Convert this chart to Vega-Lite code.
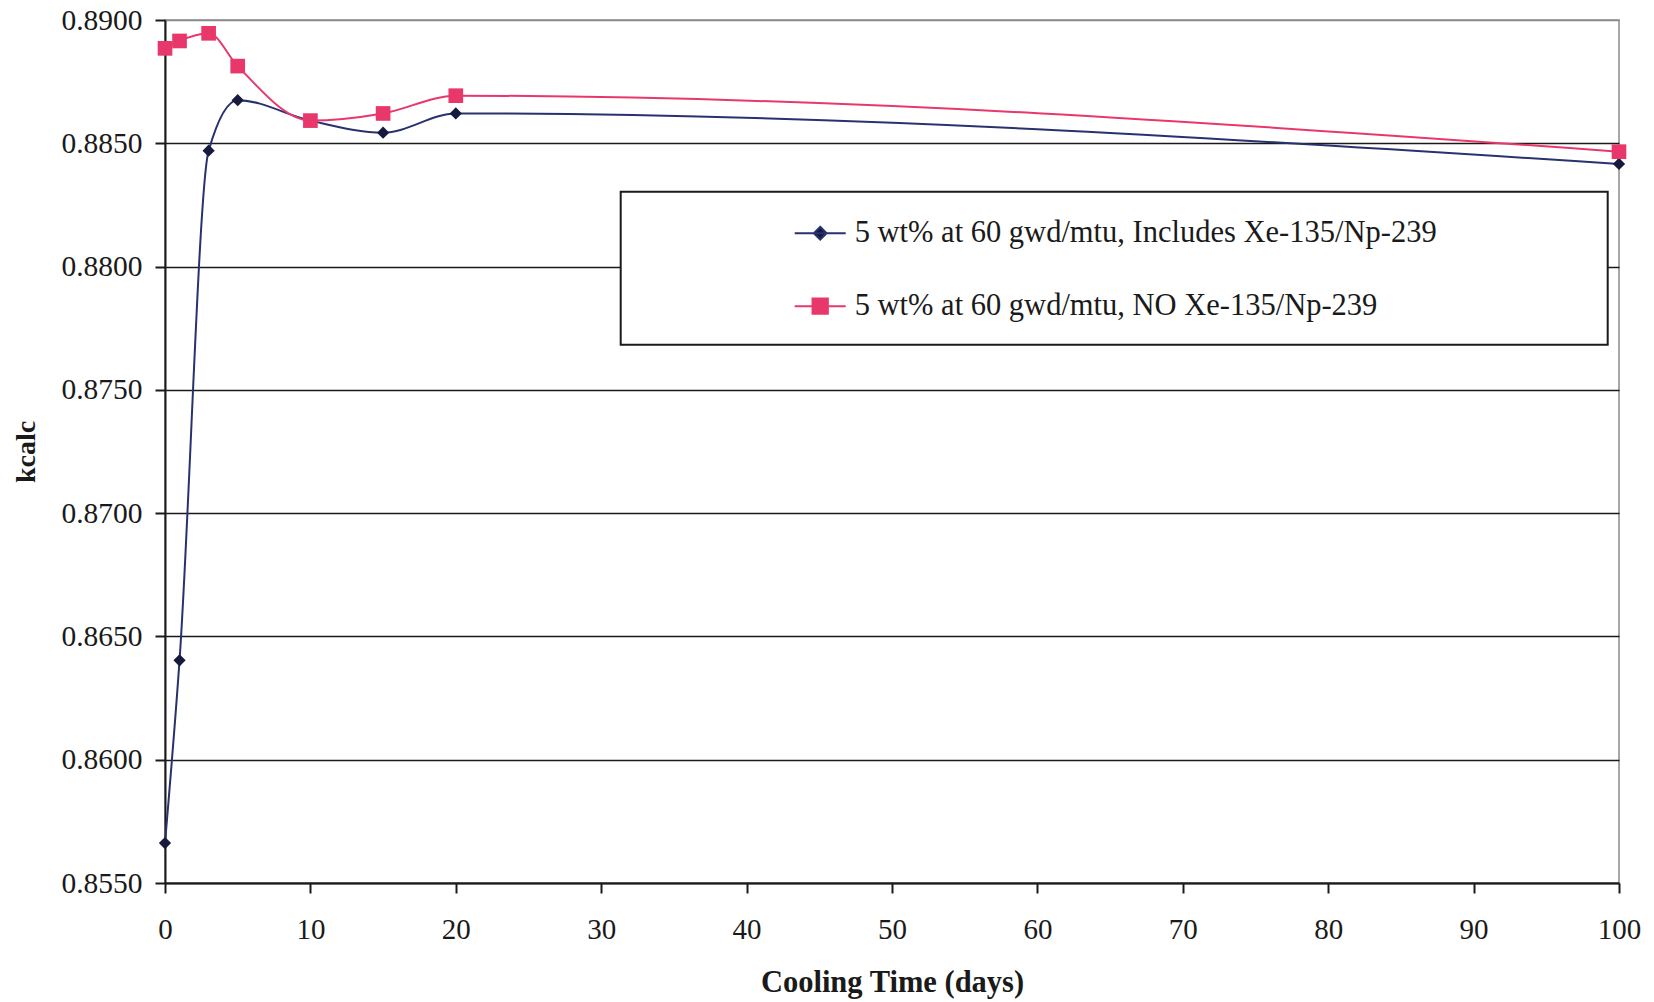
{
  "$schema": "https://vega.github.io/schema/vega-lite/v6.json",
  "autosize": {"type": "none"},
  "padding": {"left": 165, "top": 20, "right": 35, "bottom": 119},
  "width": 1454,
  "height": 863,
  "background": "#ffffff",
  "config": {
    "view": {"stroke": "#8a8a8a", "strokeWidth": 1.5},
    "font": "Liberation Serif"
  },
  "data": {
    "values": [
      {"days": 0, "kcalc": 0.85662, "series": "5 wt% at 60 gwd/mtu, Includes Xe-135/Np-239"},
      {"days": 1, "kcalc": 0.86403, "series": "5 wt% at 60 gwd/mtu, Includes Xe-135/Np-239"},
      {"days": 3, "kcalc": 0.8847, "series": "5 wt% at 60 gwd/mtu, Includes Xe-135/Np-239"},
      {"days": 5, "kcalc": 0.88675, "series": "5 wt% at 60 gwd/mtu, Includes Xe-135/Np-239"},
      {"days": 10, "kcalc": 0.88592, "series": "5 wt% at 60 gwd/mtu, Includes Xe-135/Np-239"},
      {"days": 15, "kcalc": 0.88543, "series": "5 wt% at 60 gwd/mtu, Includes Xe-135/Np-239"},
      {"days": 20, "kcalc": 0.88621, "series": "5 wt% at 60 gwd/mtu, Includes Xe-135/Np-239"},
      {"days": 100, "kcalc": 0.88416, "series": "5 wt% at 60 gwd/mtu, Includes Xe-135/Np-239"},
      {"days": 0, "kcalc": 0.88885, "series": "5 wt% at 60 gwd/mtu, NO Xe-135/Np-239"},
      {"days": 1, "kcalc": 0.88915, "series": "5 wt% at 60 gwd/mtu, NO Xe-135/Np-239"},
      {"days": 3, "kcalc": 0.88946, "series": "5 wt% at 60 gwd/mtu, NO Xe-135/Np-239"},
      {"days": 5, "kcalc": 0.88813, "series": "5 wt% at 60 gwd/mtu, NO Xe-135/Np-239"},
      {"days": 10, "kcalc": 0.88592, "series": "5 wt% at 60 gwd/mtu, NO Xe-135/Np-239"},
      {"days": 15, "kcalc": 0.88621, "series": "5 wt% at 60 gwd/mtu, NO Xe-135/Np-239"},
      {"days": 20, "kcalc": 0.88693, "series": "5 wt% at 60 gwd/mtu, NO Xe-135/Np-239"},
      {"days": 100, "kcalc": 0.88466, "series": "5 wt% at 60 gwd/mtu, NO Xe-135/Np-239"}
    ]
  },
  "encoding": {
    "x": {
      "field": "days", "type": "quantitative",
      "scale": {"domain": [0, 100], "nice": false, "zero": false},
      "axis": {
        "title": "Cooling Time (days)",
        "values": [0, 10, 20, 30, 40, 50, 60, 70, 80, 90, 100],
        "grid": false,
        "domainColor": "#1a1a1a", "domainWidth": 2,
        "tickColor": "#1a1a1a", "tickWidth": 2, "tickSize": 10,
        "labelFont": "Liberation Serif", "labelFontSize": 29, "labelColor": "#1a1a1a",
        "labelPadding": 22, "labelFlush": false,
        "titleFont": "Liberation Serif", "titleFontSize": 30.5, "titleFontWeight": "bold", "titleColor": "#1a1a1a",
        "titlePadding": 23
      }
    },
    "y": {
      "field": "kcalc", "type": "quantitative",
      "scale": {"domain": [0.855, 0.89], "nice": false, "zero": false},
      "axis": {
        "title": "kcalc",
        "values": [0.855, 0.86, 0.865, 0.87, 0.875, 0.88, 0.885, 0.89],
        "format": ".4f",
        "grid": true,
        "gridColor": {"condition": {"test": "datum.value >= 0.8899", "value": "#8a8a8a"}, "value": "#1a1a1a"},
        "gridWidth": 1.5,
        "domainColor": "#1a1a1a", "domainWidth": 2,
        "tickColor": "#1a1a1a", "tickWidth": 2, "tickSize": 10,
        "labelFont": "Liberation Serif", "labelFontSize": 29.5, "labelColor": "#1a1a1a",
        "labelPadding": 13, "labelFlush": false,
        "titleFont": "Liberation Serif", "titleFontSize": 28, "titleFontWeight": "bold", "titleColor": "#1a1a1a",
        "titlePadding": 20
      }
    }
  },
  "layer": [
    {
      "mark": {"type": "line", "interpolate": "monotone", "strokeWidth": 2},
      "encoding": {
        "color": {
          "field": "series", "type": "nominal",
          "scale": {
            "domain": ["5 wt% at 60 gwd/mtu, Includes Xe-135/Np-239", "5 wt% at 60 gwd/mtu, NO Xe-135/Np-239"],
            "range": ["#28326e", "#e8386b"]
          },
          "legend": {
            "orient": "none",
            "legendX": 455.7,
            "legendY": 171.7,
            "title": null,
            "padding": 15,
            "strokeColor": "#1a1a1a",
            "fillColor": "#ffffff",
            "symbolType": "M-1,0H1M0,-0.25L0.25,0L0,0.25L-0.25,0ZM30.1,0.75",
            "symbolSize": 2601,
            "symbolStrokeWidth": 2,
            "symbolOffset": 158,
            "labelOffset": 8,
            "rowPadding": 23,
            "labelFont": "Liberation Serif",
            "labelFontSize": 30.5,
            "labelColor": "#1a1a1a",
            "labelLimit": 1200,
            "encode": {
              "legend": {"update": {"strokeWidth": {"value": 2}}},
              "symbols": {
                "update": {
                  "shape": {"signal": "datum.value == '5 wt% at 60 gwd/mtu, NO Xe-135/Np-239' ? 'M-1,0H1M-0.3,-0.3H0.3V0.3H-0.3ZM30.1,0.75' : 'M-1,0H1M0,-0.25L0.25,0L0,0.25L-0.25,0ZM30.1,0.75'"},
                  "fill": {"signal": "datum.value == '5 wt% at 60 gwd/mtu, NO Xe-135/Np-239' ? '#e8386b' : '#161a3c'"},
                  "stroke": {"signal": "datum.value == '5 wt% at 60 gwd/mtu, NO Xe-135/Np-239' ? '#e8386b' : '#28326e'"},
                  "strokeWidth": {"value": 2},
                  "opacity": {"value": 1},
                  "fillOpacity": {"value": 1}
                }
              }
            }
          }
        }
      }
    },
    {
      "transform": [{"filter": {"field": "series", "equal": "5 wt% at 60 gwd/mtu, Includes Xe-135/Np-239"}}],
      "mark": {"type": "point", "filled": true, "opacity": 1, "shape": "diamond", "size": 150, "color": "#161a3c"}
    },
    {
      "transform": [{"filter": {"field": "series", "equal": "5 wt% at 60 gwd/mtu, NO Xe-135/Np-239"}}],
      "mark": {"type": "point", "filled": true, "opacity": 1, "shape": "square", "size": 215, "color": "#e8386b"}
    }
  ]
}
